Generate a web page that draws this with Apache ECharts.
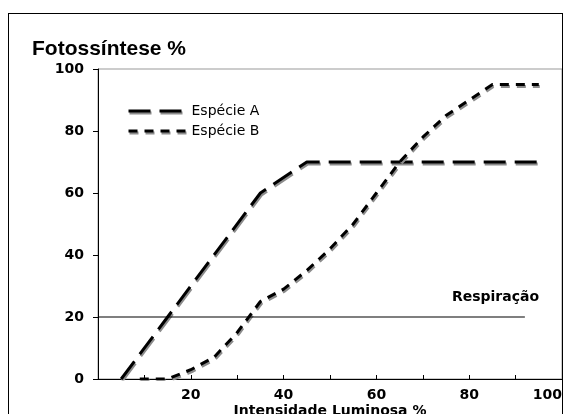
<!DOCTYPE html>
<html>
<head>
<meta charset="utf-8">
<script src="https://cdn.jsdelivr.net/npm/echarts@6/dist/echarts.min.js"></script>
<style>
  html, body { margin: 0; padding: 0; background: #fff; }
  #wrap { position: relative; width: 569px; height: 414px; overflow: hidden; background:#fff; }
  #chart { position: absolute; left: 0; top: 0; width: 563px; height: 414px; overflow: hidden; }
  #frame { position: absolute; left: 8px; top: 13px; width: 553px; height: 440px; border: 1.5px solid #000; pointer-events: none; }
</style>
</head>
<body>
<div id="wrap"><div id="chart"></div><div id="frame"></div></div>
<script>
// ---- data ----
const titleText = 'Fotossíntese %';
const xAxisName = 'Intensidade Luminosa %';
const seriesNames = ['Espécie A', 'Espécie B'];
const xA = [5, 15, 25, 35, 45, 55, 65, 75, 85, 95];
const yA = [0, 20, 40, 60, 70, 70, 70, 70, 70, 70];
const xB = [9, 15, 20, 25, 30, 35, 40, 45, 50, 55, 60, 65, 70, 75, 80, 85, 90, 95];
const yB = [0, 0, 3, 7, 15, 25, 29, 35, 42, 50, 60, 70, 78, 85, 90, 95, 95, 95];
const respLabel = 'Respiração';
const respX = [0, 92];
const respY = [20, 20];
const xTicks = [20, 40, 60, 80, 100];
const yTicks = [0, 20, 40, 60, 80, 100];
const dashA = [22, 9];
const dashB = [9, 7];

const pairs = (xs, ys) => xs.map((x, i) => [x, ys[i]]);

const chart = echarts.init(document.getElementById('chart'), null, { renderer: 'canvas' });
const lblFont = 'DejaVu Sans';
const shadow = { shadowColor: '#8c8c8c', shadowBlur: 0, shadowOffsetX: 1, shadowOffsetY: 2 };

chart.setOption({
  animation: false,
  backgroundColor: '#fff',
  title: {
    text: titleText, left: 27, top: 34,
    textStyle: { fontFamily: 'Liberation Sans', fontWeight: 'bold', fontSize: 21, color: '#000' }
  },
  legend: {
    data: [
      { name: seriesNames[0], itemStyle: { opacity: 0 }, lineStyle: Object.assign({ color: '#000', width: 3, type: dashA }, shadow) },
      { name: seriesNames[1], itemStyle: { opacity: 0 }, lineStyle: Object.assign({ color: '#000', width: 3, type: dashB }, shadow) }
    ],
    orient: 'vertical', left: 122, top: 99,
    itemWidth: 58, itemHeight: 14, itemGap: 6,
    textStyle: { fontFamily: lblFont, fontSize: 14, color: '#000' }
  },
  grid: { left: 98, top: 69, right: 1, bottom: 35, show: true, borderColor: '#999', borderWidth: 1,
          outerBoundsMode: 'none', containLabel: false },
  xAxis: {
    type: 'value', min: 0, max: 100, interval: 10,
    name: xAxisName, nameLocation: 'middle', nameGap: 25, nameMoveOverlap: false,
    nameTextStyle: { fontFamily: lblFont, fontWeight: 'bold', fontSize: 14, color: '#000' },
    axisLine: { lineStyle: { color: '#000', width: 1 } },
    axisTick: { inside: true, length: 4, lineStyle: { color: '#000' } },
    splitLine: { show: false },
    axisLabel: {
      margin: 9, fontFamily: lblFont, fontWeight: 'bold', fontSize: 14, color: '#000',
      hideOverlap: false, showMaxLabel: true, alignMaxLabel: 'right',
      formatter: v => xTicks.includes(v) ? String(v) : ''
    }
  },
  yAxis: {
    type: 'value', min: 0, max: 100, interval: 20,
    axisLine: { show: true, lineStyle: { color: '#000', width: 1 } },
    axisTick: { show: true, length: 5, lineStyle: { color: '#000' } },
    splitLine: { show: false },
    axisLabel: {
      margin: 14, fontFamily: lblFont, fontWeight: 'bold', fontSize: 14, color: '#000',
      formatter: v => yTicks.includes(v) ? String(v) : ''
    }
  },
  series: [
    {
      name: seriesNames[0], type: 'line', data: pairs(xA, yA), symbol: 'none', color: '#000',
      lineStyle: Object.assign({ color: '#000', width: 3, type: dashA }, shadow)
    },
    {
      name: seriesNames[1], type: 'line', data: pairs(xB, yB), symbol: 'none', color: '#000',
      lineStyle: Object.assign({ color: '#000', width: 3, type: dashB }, shadow)
    },
    {
      name: respLabel, type: 'line', data: pairs(respX, respY), symbol: 'none', silent: true,
      lineStyle: { color: '#000', width: 1.2 },
      endLabel: {
        show: true, formatter: respLabel, distance: 0, offset: [-73, -20],
        fontFamily: lblFont, fontWeight: 'bold', fontSize: 14, color: '#000'
      }
    }
  ]
});
</script>
</body>
</html>
